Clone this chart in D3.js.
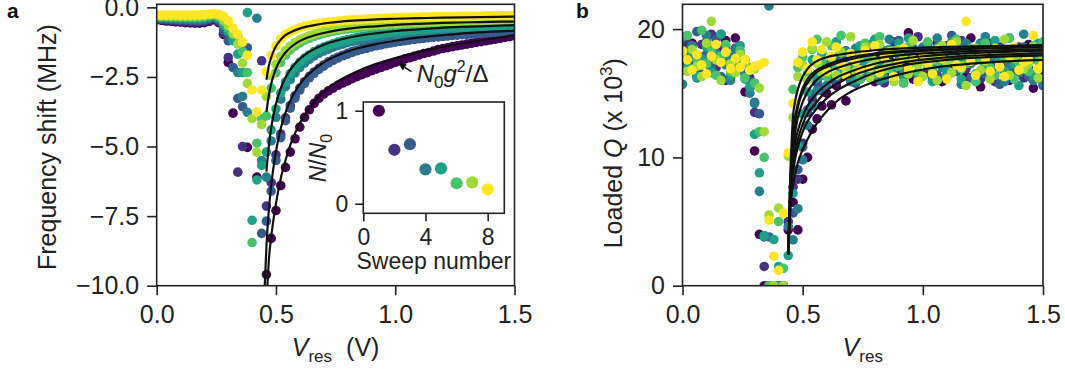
<!DOCTYPE html>
<html>
<head>
<meta charset="utf-8">
<script src="https://cdn.jsdelivr.net/npm/d3@7"></script>
<style>
  html, body { margin: 0; padding: 0; background: #fff; }
  svg { display: block; }
</style>
</head>
<body>
<svg id="chart" width="1065" height="373"></svg>
<script>
// ---------------- data ----------------
// Resonator bias voltage of each sweep step (V)
const voltages = [0,0.02,0.04,0.06,0.08,0.1,0.12,0.14,0.16,0.18,0.2,0.22,0.24,0.26,0.28,0.3,0.32,0.34,0.36,0.38,0.4,0.42,0.44,0.46,0.48,0.5,0.52,0.54,0.56,0.58,0.6,0.62,0.64,0.66,0.68,0.7,0.72,0.74,0.76,0.78,0.8,0.82,0.84,0.86,0.88,0.9,0.92,0.94,0.96,0.98,1,1.02,1.04,1.06,1.08,1.1,1.12,1.14,1.16,1.18,1.2,1.22,1.24,1.26,1.28,1.3,1.32,1.34,1.36,1.38,1.4,1.42,1.44,1.46,1.48,1.5];

// Frequency shift (MHz), one array per sweep (sweep 1 ... 8)
const shiftSweep1 = [-0.45,-0.47,-0.49,-0.50,-0.52,-0.53,-0.55,-0.56,-0.57,-0.57,-0.55,-0.50,-0.44,
  -0.55,-0.97,-1.98,-3.8,null,null,-5.03,null,-6.1,null,
  -9.6,-8.3,-7.3,-6.4,-5.75,-5.2,-4.72,-4.3,-3.95,-3.68,-3.45,-3.27,-3.12,-3.0,-2.9,-2.8,-2.72,-2.64,-2.56,-2.49,-2.42,-2.35,-2.28,-2.22,-2.16,-2.1,-2.04,-1.98,-1.92,-1.86,-1.81,-1.76,-1.71,-1.66,-1.62,-1.57,-1.52,-1.48,-1.45,-1.41,-1.38,-1.35,-1.32,-1.29,-1.26,-1.23,-1.2,-1.17,-1.14,-1.11,-1.08,-1.05,-1.02];
const shiftSweep2 = [-0.42,-0.44,-0.45,-0.46,-0.48,-0.49,-0.5,-0.51,-0.52,-0.52,-0.5,-0.45,-0.4,
  -0.5,-0.92,-1.8,null,-5.92,-5.0,null,null,null,-1.92,
  -7.14,-6.3,-5.3,-4.55,-3.97,-3.53,-3.18,-2.9,-2.67,-2.48,-2.32,-2.19,-2.07,-1.96,-1.87,-1.79,-1.72,-1.65,-1.59,-1.54,-1.49,-1.44,-1.4,-1.36,-1.33,-1.29,-1.26,-1.23,-1.21,-1.18,-1.16,-1.14,-1.11,-1.09,-1.08,-1.06,-1.04,-1.03,-1.01,-1.0,-0.98,-0.97,-0.96,-0.94,-0.93,-0.92,-0.91,-0.9,-0.89,-0.88,-0.87,-0.86,-0.85];
const shiftSweep3 = [-0.39,-0.41,-0.42,-0.43,-0.44,-0.45,-0.46,-0.47,-0.47,-0.47,-0.45,-0.41,-0.37,
  -0.45,-0.8,-1.2,-2.16,-3.27,-3.57,-1.45,null,null,-8.12,
  -7.68,-6.6,-5.5,-4.68,-4.07,-3.62,-3.26,-2.97,-2.73,-2.53,-2.37,-2.23,-2.11,-2.0,-1.9,-1.82,-1.74,-1.68,-1.62,-1.56,-1.51,-1.47,-1.42,-1.38,-1.35,-1.31,-1.28,-1.25,-1.22,-1.2,-1.17,-1.15,-1.13,-1.11,-1.09,-1.07,-1.06,-1.04,-1.03,-1.01,-1.0,-0.98,-0.97,-0.96,-0.95,-0.94,-0.92,-0.91,-0.9,-0.89,-0.88,-0.88,-0.87];
const shiftSweep4 = [-0.37,-0.38,-0.39,-0.4,-0.41,-0.42,-0.42,-0.43,-0.43,-0.43,-0.41,-0.37,-0.34,
  -0.4,-0.65,-0.9,-1.09,-2.34,-3.2,-3.77,null,-0.39,-5.5,
  -6.1,-4.8,-3.95,-3.3,-2.85,-2.6,-2.36,-2.16,-2.0,-1.87,-1.75,-1.65,-1.57,-1.5,-1.43,-1.37,-1.32,-1.27,-1.23,-1.19,-1.15,-1.12,-1.09,-1.06,-1.03,-1.0,-0.98,-0.96,-0.94,-0.92,-0.9,-0.88,-0.86,-0.85,-0.83,-0.82,-0.8,-0.79,-0.78,-0.77,-0.76,-0.75,-0.74,-0.73,-0.72,-0.71,-0.7,-0.69,-0.68,-0.67,-0.66,-0.66,-0.65];
const shiftSweep5 = [-0.35,-0.36,-0.36,-0.37,-0.38,-0.38,-0.39,-0.39,-0.39,-0.39,-0.37,-0.34,-0.31,
  -0.38,-0.6,-0.85,-1.2,-1.68,-2.34,-0.19,-7.65,-6.2,-5.68,
  -5.2,-4.4,-3.65,-3.08,-2.68,-2.38,-2.15,-1.97,-1.82,-1.7,-1.59,-1.5,-1.43,-1.36,-1.3,-1.25,-1.2,-1.16,-1.12,-1.08,-1.05,-1.02,-0.99,-0.97,-0.94,-0.92,-0.9,-0.88,-0.86,-0.85,-0.83,-0.82,-0.8,-0.79,-0.78,-0.77,-0.75,-0.74,-0.73,-0.72,-0.71,-0.71,-0.7,-0.69,-0.68,-0.67,-0.67,-0.66,-0.65,-0.65,-0.64,-0.63,-0.63];
const shiftSweep6 = [-0.32,-0.33,-0.33,-0.34,-0.34,-0.35,-0.35,-0.35,-0.35,-0.35,-0.33,-0.3,-0.28,
  -0.33,-0.5,-0.75,-0.9,-1.03,-1.59,-2.34,-8.45,-4.88,-4.0,
  -3.9,-2.9,-2.35,-1.98,-1.72,-1.53,-1.39,-1.28,-1.18,-1.11,-1.04,-0.99,-0.94,-0.9,-0.86,-0.83,-0.8,-0.78,-0.76,-0.74,-0.72,-0.7,-0.69,-0.67,-0.66,-0.65,-0.64,-0.63,-0.62,-0.61,-0.6,-0.59,-0.58,-0.58,-0.57,-0.56,-0.56,-0.55,-0.55,-0.54,-0.54,-0.53,-0.53,-0.52,-0.52,-0.51,-0.51,-0.51,-0.5,-0.5,-0.5,-0.49,-0.49];
const shiftSweep7 = [-0.3,-0.3,-0.31,-0.31,-0.31,-0.32,-0.32,-0.32,-0.32,-0.31,-0.3,-0.27,-0.25,
  -0.3,-0.45,-0.65,-0.95,-1.32,-2.0,-2.73,-4.0,-5.2,-4.21,
  -3.2,-2.45,-2.05,-1.76,-1.55,-1.39,-1.27,-1.17,-1.09,-1.02,-0.96,-0.91,-0.87,-0.83,-0.8,-0.77,-0.74,-0.72,-0.7,-0.68,-0.66,-0.65,-0.63,-0.62,-0.61,-0.6,-0.59,-0.58,-0.57,-0.56,-0.55,-0.55,-0.54,-0.53,-0.53,-0.52,-0.52,-0.51,-0.51,-0.5,-0.5,-0.49,-0.49,-0.48,-0.48,-0.48,-0.47,-0.47,-0.47,-0.46,-0.46,-0.46,-0.45];
const shiftSweep8 = [-0.28,-0.28,-0.28,-0.28,-0.28,-0.28,-0.28,-0.28,-0.27,-0.27,-0.26,-0.24,-0.22,
  -0.25,-0.32,-0.48,-0.75,-0.97,-1.25,-1.72,-2.97,-3.75,-2.97,
  -2.32,-1.72,-1.38,-1.14,-0.98,-0.88,-0.8,-0.73,-0.68,-0.64,-0.6,-0.57,-0.55,-0.53,-0.51,-0.49,-0.48,-0.46,-0.45,-0.44,-0.43,-0.42,-0.41,-0.4,-0.39,-0.39,-0.38,-0.37,-0.37,-0.36,-0.36,-0.35,-0.35,-0.34,-0.34,-0.34,-0.33,-0.33,-0.33,-0.32,-0.32,-0.32,-0.31,-0.31,-0.31,-0.31,-0.3,-0.3,-0.3,-0.3,-0.29,-0.29,-0.29];

// Dispersive-shift fits N g^2/Delta, [V, MHz]
const shiftFitSweep8 = [[0.46,-2.6],[0.47,-2.11],[0.48,-1.8],[0.49,-1.57],[0.5,-1.4],[0.52,-1.16],[0.54,-1.0],[0.56,-0.9],[0.59,-0.79],[0.62,-0.71],[0.66,-0.64],[0.7,-0.58],[0.76,-0.52],[0.84,-0.47],[0.92,-0.43],[1.0,-0.41],[1.1,-0.39],[1.2,-0.37],[1.35,-0.35],[1.5,-0.33]];
const shiftFitSweeps67 = [[0.46,-3.76],[0.47,-3.17],[0.48,-2.75],[0.49,-2.44],[0.5,-2.2],[0.52,-1.86],[0.54,-1.62],[0.56,-1.45],[0.59,-1.26],[0.62,-1.13],[0.66,-1.01],[0.7,-0.92],[0.76,-0.82],[0.84,-0.73],[0.92,-0.68],[1.0,-0.63],[1.1,-0.59],[1.2,-0.56],[1.35,-0.53],[1.5,-0.51]];
const shiftFitSweeps45 = [[0.46,-5.9],[0.47,-4.99],[0.48,-4.34],[0.49,-3.85],[0.5,-3.47],[0.52,-2.91],[0.54,-2.52],[0.56,-2.24],[0.59,-1.93],[0.62,-1.71],[0.66,-1.5],[0.7,-1.34],[0.76,-1.18],[0.84,-1.03],[0.92,-0.93],[1.0,-0.85],[1.1,-0.79],[1.2,-0.73],[1.35,-0.68],[1.5,-0.64]];
const shiftFitSweeps23 = [[0.453,-10],[0.456,-9.4],[0.46,-8.6],[0.47,-7.3],[0.48,-6.4],[0.49,-5.72],[0.5,-5.18],[0.52,-4.35],[0.54,-3.78],[0.56,-3.35],[0.59,-2.89],[0.62,-2.55],[0.66,-2.23],[0.7,-1.98],[0.76,-1.72],[0.84,-1.48],[0.92,-1.32],[1.0,-1.2],[1.1,-1.08],[1.2,-1.0],[1.35,-0.9],[1.5,-0.84]];
const shiftFitSweep1 = [[0.464,-10],[0.47,-9.1],[0.48,-8.25],[0.49,-7.6],[0.5,-7.05],[0.52,-6.15],[0.54,-5.5],[0.56,-4.95],[0.59,-4.33],[0.62,-3.87],[0.66,-3.4],[0.7,-3.03],[0.76,-2.65],[0.84,-2.3],[0.92,-2.03],[1.0,-1.82],[1.1,-1.6],[1.2,-1.42],[1.35,-1.2],[1.5,-1.0]];

// Loaded Q (x 10^3), one array per sweep
const qSweep1 = [18.6,17.2,18.9,16.4,17.8,19.0,16.9,18.3,17.5,19.1,16.2,19.3,17.9,15.1,15.4,
  10.5,4.0,0,0,null,0,null,4.35,
  6.5,4.35,8.3,10.0,12.2,13.0,14.0,15.0,14.1,15.6,16.3,14.4,16.0,15.8,17.0,16.4,17.3,15.9,17.9,16.5,17.6,18.4,16.8,17.2,19.7,16.1,17.8,18.2,16.6,17.4,18.9,15.9,17.7,16.9,18.5,17.1,16.3,19.3,17.6,15.5,18.0,17.2,16.7,18.6,17.4,16.0,18.2,17.5,16.6,18.8,15.4,17.9,16.8];
const qSweep2 = [17.5,19.0,18.1,16.6,18.8,17.3,19.6,17.0,18.4,16.0,17.7,18.5,16.9,17.6,16.2,
  13.5,null,1.5,0,0,null,0,5.0,
  7.7,8.3,11.1,13.5,14.5,15.8,15.2,16.6,17.3,15.9,16.9,17.8,16.4,18.2,16.1,17.5,18.6,16.8,17.4,15.8,18.1,19.0,17.0,16.3,18.4,17.6,19.4,16.5,17.9,18.3,16.0,17.2,18.7,16.6,17.8,19.1,16.9,17.5,18.2,16.1,17.3,18.9,15.9,17.7,18.4,16.5,17.1,18.6,16.2,17.9,18.3,16.7,17.4];
const qSweep3 = [16.8,18.3,17.4,19.8,16.5,18.0,17.1,19.2,16.3,18.6,17.8,16.7,18.2,17.0,15.9,
  14.3,13.4,null,3.8,null,0,0,null,
  5.66,9.05,10.8,13.7,14.9,16.0,15.4,17.2,16.1,17.8,16.7,18.3,17.0,15.8,18.0,17.3,16.4,18.7,17.5,16.2,18.1,17.0,19.1,16.6,17.7,18.5,16.0,17.9,18.8,17.2,16.4,18.3,17.0,19.5,16.7,17.6,18.4,16.2,17.8,18.9,16.5,17.4,18.1,15.7,17.9,19.3,16.8,17.5,18.6,16.3,17.7,18.2,15.6];
const qSweep4 = [15.7,17.9,18.7,16.2,17.4,19.5,16.8,18.1,19.6,17.2,16.0,18.4,17.6,16.5,15.0,
  14.2,7.35,3.8,21.8,0,0,null,4.6,
  3.57,6.0,9.8,12.5,14.0,15.2,16.4,15.6,17.5,16.3,18.1,17.0,15.9,18.5,17.3,16.6,18.8,17.1,16.0,18.3,19.2,16.9,17.6,15.8,18.0,17.4,16.3,18.6,17.8,16.1,19.3,17.0,16.5,18.2,17.6,15.7,18.9,17.3,16.4,18.0,19.4,16.2,17.7,18.5,15.9,17.2,18.1,16.6,19.6,17.0,16.0,18.4,15.8];
const qSweep5 = [19.4,17.0,18.2,16.3,17.7,18.6,16.6,17.9,19.6,18.0,16.4,17.5,18.7,16.1,15.5,
  11.8,8.8,3.9,0,3.6,1.5,0,2.35,
  7.2,11.0,13.4,15.1,17.6,16.2,18.1,16.9,17.4,19.0,16.5,18.2,17.1,16.0,18.7,17.5,16.8,19.2,17.3,16.2,18.4,17.0,18.9,16.4,19.3,17.7,16.6,18.1,17.2,15.9,18.6,17.5,16.8,19.0,17.4,16.1,18.3,17.8,16.5,18.8,17.0,16.3,19.1,17.6,16.7,18.2,17.3,15.6,18.5,17.8,16.4,18.9,17.1];
const qSweep6 = [18.2,19.5,16.9,17.6,19.9,17.3,18.5,16.4,17.9,18.8,16.7,17.4,18.3,16.2,17.0,
  15.8,12.0,10.0,0,0,5.0,1.35,null,
  15.3,17.0,17.8,16.6,18.4,19.2,17.5,16.3,18.7,17.2,19.5,16.8,18.0,17.4,16.1,18.9,17.7,16.5,19.4,17.9,16.9,18.3,17.1,15.8,18.6,17.4,16.6,18.0,19.0,16.8,17.5,18.4,16.2,17.8,19.2,16.9,17.3,18.5,15.9,17.6,18.9,17.0,16.4,18.1,17.7,19.3,16.1,17.4,18.2,16.7,18.7,17.5,19.0];
const qSweep7 = [17.8,16.7,18.4,17.1,16.3,18.9,20.6,17.6,16.0,18.2,17.3,16.6,18.0,17.4,16.8,
  16.9,15.4,12.0,5.5,0,6.05,0,10.1,
  13.1,16.3,17.2,16.0,18.5,17.3,16.6,19.0,17.8,16.4,18.2,17.0,19.4,16.7,17.9,18.6,16.2,17.5,18.8,16.9,17.3,15.9,18.4,17.7,16.5,19.1,17.2,16.3,18.0,17.6,16.0,18.7,17.4,16.6,19.0,17.1,15.6,17.8,18.5,16.8,17.5,16.1,18.3,17.0,19.2,16.4,17.7,18.1,16.9,17.3,18.6,16.2,17.8];
const qSweep8 = [18.3,17.6,16.8,18.0,17.2,16.5,17.9,18.8,17.4,18.2,16.9,17.7,17.0,17.6,16.8,
  17.1,17.2,17.4,5.1,2.3,1.2,5.66,10.35,
  14.2,17.4,18.2,16.9,19.0,17.6,18.4,16.7,17.9,18.6,17.2,16.4,18.1,17.5,16.8,18.3,17.0,18.7,16.6,17.8,18.2,16.3,17.4,18.5,16.9,17.6,15.9,18.0,17.3,16.5,18.4,17.7,16.1,18.8,17.2,17.0,20.6,17.5,16.4,18.2,17.8,16.7,18.5,17.1,16.3,17.9,18.6,16.8,17.4,17.6,19.5,16.9,17.3];

// Loaded-Q fits, sampled at these voltages
const qFitVoltages = [0.44,0.445,0.45,0.455,0.46,0.47,0.48,0.5,0.52,0.55,0.6,0.65,0.7,0.8,0.9,1.0,1.1,1.2,1.35,1.5];
const qFitSweep1 = [2.4,4.5,6.3,7.2,7.8,8.8,9.6,10.6,11.4,12.4,13.6,14.5,15.1,15.9,16.45,16.85,17.12,17.3,17.48,17.6];
const qFitSweep2 = [2.4,4.8,6.9,8.0,8.8,10.0,10.8,12.0,12.8,13.6,14.6,15.3,15.8,16.6,17.1,17.4,17.6,17.75,17.87,17.95];
const qFitSweep3 = [2.4,5.0,7.1,8.3,9.2,10.5,11.4,12.6,13.4,14.1,15.2,15.8,16.3,16.95,17.35,17.62,17.8,17.92,18.02,18.1];
const qFitSweep4 = [2.4,5.3,7.6,9.0,10.0,11.3,12.1,13.2,14.0,14.8,15.7,16.3,16.7,17.3,17.65,17.88,18.03,18.13,18.23,18.32];
const qFitSweep5 = [2.4,5.5,7.9,9.4,10.6,12.1,13.1,14.3,15.1,15.9,16.6,17.0,17.3,17.7,17.95,18.1,18.21,18.29,18.36,18.42];
const qFitSweep6 = [2.4,5.8,8.4,10.0,11.4,12.9,13.9,15.1,15.8,16.5,17.05,17.4,17.65,18.0,18.18,18.3,18.39,18.45,18.53,18.6];
const qFitSweep7 = [2.4,6.0,8.6,10.4,11.8,13.3,14.2,15.4,16.1,16.7,17.2,17.55,17.8,18.1,18.27,18.38,18.46,18.52,18.59,18.65];
const qFitSweep8 = [2.4,6.5,9.5,11.6,13.2,14.5,15.3,16.3,16.9,17.4,17.8,18.0,18.15,18.35,18.47,18.55,18.61,18.65,18.7,18.75];

// Inset: relative electron number per sweep
const sweepNumbers = [1,2,3,4,5,6,7,8];
const relativeN = [1.0,0.58,0.64,0.37,0.38,0.22,0.23,0.155];

// Tick values
const voltageTicks = [0, 0.5, 1.0, 1.5];
const shiftTicks = [0, -2.5, -5, -7.5, -10];
const qTicks = [0, 10, 20];
const insetXTicks = [0, 4, 8];
const insetYTicks = [0, 1];

// ---------------- drawing ----------------
const FONT = '"Liberation Sans", Arial, Helvetica, sans-serif';
const INK = "#222";
const svg = d3.select("#chart");
svg.append("rect").attr("width", 1065).attr("height", 373).attr("fill", "#fff");

const shiftSweeps = [shiftSweep1, shiftSweep2, shiftSweep3, shiftSweep4, shiftSweep5, shiftSweep6, shiftSweep7, shiftSweep8];
const qSweeps = [qSweep1, qSweep2, qSweep3, qSweep4, qSweep5, qSweep6, qSweep7, qSweep8];
const shiftFits = [shiftFitSweep1, shiftFitSweeps23, shiftFitSweeps45, shiftFitSweeps67, shiftFitSweep8];
const qFits = [qFitSweep1, qFitSweep2, qFitSweep3, qFitSweep4, qFitSweep5, qFitSweep6, qFitSweep7, qFitSweep8];
const sweepColor = i => d3.interpolateViridis(i / 7);
const DOT_R = 4.8;

function styleAxis(g, fs) {
  g.attr("font-size", fs).attr("font-family", FONT);
  g.select(".domain").remove();
  g.selectAll(".tick line").attr("stroke", INK).attr("stroke-width", 1.6);
  g.selectAll(".tick text").attr("fill", INK);
}
function frame(box) {
  svg.append("rect")
    .attr("x", box.left).attr("y", box.top)
    .attr("width", box.right - box.left).attr("height", box.bottom - box.top)
    .attr("fill", "none").attr("stroke", INK).attr("stroke-width", 1.6);
}
function clip(id, box) {
  svg.append("clipPath").attr("id", id).append("rect")
    .attr("x", box.left).attr("y", box.top)
    .attr("width", box.right - box.left).attr("height", box.bottom - box.top);
}

// ----- panel a: frequency shift -----
const boxA = { left: 156.7, right: 514.5, top: 4.3, bottom: 285.7 };
const xA = d3.scaleLinear().domain([0, 1.5]).range([boxA.left, boxA.right]);
const yA = d3.scaleLinear().domain([-10, 0.11]).range([boxA.bottom, boxA.top]);
clip("clipA", boxA);

const gA = svg.append("g").attr("clip-path", "url(#clipA)");
shiftSweeps.forEach((vals, s) => {
  const pts = voltages.map((v, k) => [v, vals[k]]).filter(d => d[1] !== null);
  gA.append("g").selectAll("circle").data(pts).join("circle")
    .attr("cx", d => xA(d[0])).attr("cy", d => yA(d[1]))
    .attr("r", DOT_R).attr("fill", sweepColor(s));
});
const lineA = d3.line().x(d => xA(d[0])).y(d => yA(d[1])).curve(d3.curveMonotoneX);
shiftFits.forEach(f => {
  gA.append("path").attr("d", lineA(f)).attr("fill", "none")
    .attr("stroke", "#111").attr("stroke-width", 2.2);
});

svg.append("g").attr("transform", `translate(0,${boxA.bottom})`)
  .call(d3.axisBottom(xA).tickValues(voltageTicks).tickFormat(d3.format(".1f")).tickSize(9.5).tickPadding(10))
  .call(g => styleAxis(g, 25));
svg.append("g").attr("transform", `translate(${boxA.left},0)`)
  .call(d3.axisLeft(yA).tickValues(shiftTicks).tickFormat(d3.format(".1f")).tickSize(9.5).tickPadding(8))
  .call(g => styleAxis(g, 25));
frame(boxA);

svg.append("text").attr("transform", "translate(56,270) rotate(-90)")
  .attr("font-family", FONT).attr("font-size", 25).attr("fill", INK)
  .text("Frequency shift (MHz)");

const xlabA = svg.append("text").attr("x", (boxA.left + boxA.right) / 2).attr("y", 356)
  .attr("text-anchor", "middle").attr("font-family", FONT).attr("font-size", 25).attr("fill", INK);
xlabA.append("tspan").attr("font-style", "italic").text("V");
xlabA.append("tspan").attr("font-size", 17).attr("dy", 6).text("res");
xlabA.append("tspan").attr("dy", -6).attr("dx", 14).text("(V)");

svg.append("text").attr("x", 7).attr("y", 18.3).attr("font-family", FONT)
  .attr("font-size", 21).attr("font-weight", "bold").attr("fill", "#111").text("a");

// annotation pointing at the sweep-1 fit
const note = { tip: [1.012, -2.0], tail: [1.068, -2.31], text: [1.09, -2.67] };
const tipX = xA(note.tip[0]), tipY = yA(note.tip[1]);
const tailX = xA(note.tail[0]), tailY = yA(note.tail[1]);
const ang = Math.atan2(tipY - tailY, tipX - tailX);
const headLen = 8, headW = 3.6;
const baseX = tipX - headLen * Math.cos(ang), baseY = tipY - headLen * Math.sin(ang);
svg.append("line").attr("x1", tailX).attr("y1", tailY).attr("x2", baseX).attr("y2", baseY)
  .attr("stroke", "#111").attr("stroke-width", 1.6);
svg.append("path").attr("fill", "#111").attr("d",
  `M${tipX},${tipY}L${baseX + headW * Math.sin(ang)},${baseY - headW * Math.cos(ang)}` +
  `L${baseX - headW * Math.sin(ang)},${baseY + headW * Math.cos(ang)}Z`);
const noteText = svg.append("text").attr("x", xA(note.text[0])).attr("y", yA(note.text[1]))
  .attr("font-family", FONT).attr("font-size", 24).attr("fill", INK);
noteText.append("tspan").attr("font-style", "italic").text("N");
noteText.append("tspan").attr("font-size", 17).attr("dy", 6).text("0");
noteText.append("tspan").attr("font-style", "italic").attr("dy", -6).text("g");
noteText.append("tspan").attr("font-size", 16).attr("dy", -10).text("2");
noteText.append("tspan").attr("dy", 10).text("/\u0394");

// ----- inset: N/N0 versus sweep number -----
const boxI = { left: 363.3, right: 504.3, top: 102, bottom: 213.3 };
const xI = d3.scaleLinear().domain([0, 9.07]).range([boxI.left, boxI.right]);
const yI = d3.scaleLinear().domain([-0.103, 1.094]).range([boxI.bottom, boxI.top]);
svg.append("rect").attr("x", boxI.left).attr("y", boxI.top)
  .attr("width", boxI.right - boxI.left).attr("height", boxI.bottom - boxI.top).attr("fill", "#fff");
svg.append("g").selectAll("circle").data(sweepNumbers).join("circle")
  .attr("cx", d => xI(d)).attr("cy", (d, i) => yI(relativeN[i]))
  .attr("r", 6.1).attr("fill", (d, i) => sweepColor(i));
svg.append("g").attr("transform", `translate(0,${boxI.bottom})`)
  .call(d3.axisBottom(xI).tickValues(insetXTicks).tickFormat(d3.format("d")).tickSize(8).tickPadding(7))
  .call(g => styleAxis(g, 23));
svg.append("g").attr("transform", `translate(${boxI.left},0)`)
  .call(d3.axisLeft(yI).tickValues(insetYTicks).tickFormat(d3.format("d")).tickSize(8).tickPadding(7))
  .call(g => styleAxis(g, 23));
frame(boxI);
svg.append("text").attr("x", (boxI.left + boxI.right) / 2).attr("y", 269)
  .attr("text-anchor", "middle").attr("font-family", FONT).attr("font-size", 23).attr("fill", INK)
  .text("Sweep number");
const ylabI = svg.append("text").attr("transform", "translate(326,158) rotate(-90)")
  .attr("text-anchor", "middle").attr("font-family", FONT).attr("font-size", 23).attr("fill", INK);
ylabI.append("tspan").attr("font-style", "italic").text("N");
ylabI.append("tspan").text("/");
ylabI.append("tspan").attr("font-style", "italic").text("N");
ylabI.append("tspan").attr("font-size", 16).attr("dy", 6).text("0");

// ----- panel b: loaded Q -----
const boxB = { left: 682.5, right: 1043, top: 4.3, bottom: 285.7 };
const xB = d3.scaleLinear().domain([0, 1.5]).range([boxB.left, boxB.right]);
const yB = d3.scaleLinear().domain([0, 21.93]).range([boxB.bottom, boxB.top]);
clip("clipB", boxB);

const gB = svg.append("g").attr("clip-path", "url(#clipB)");
qSweeps.forEach((vals, s) => {
  const pts = voltages.map((v, k) => [v, vals[k]]).filter(d => d[1] !== null);
  gB.append("g").selectAll("circle").data(pts).join("circle")
    .attr("cx", d => xB(d[0])).attr("cy", d => yB(d[1]))
    .attr("r", DOT_R).attr("fill", sweepColor(s));
});
const lineB = d3.line().x(d => xB(d[0])).y(d => yB(d[1])).curve(d3.curveMonotoneX);
qFits.forEach(f => {
  gB.append("path").attr("d", lineB(qFitVoltages.map((v, i) => [v, f[i]])))
    .attr("fill", "none").attr("stroke", "#111").attr("stroke-width", 2.2);
});

svg.append("g").attr("transform", `translate(0,${boxB.bottom})`)
  .call(d3.axisBottom(xB).tickValues(voltageTicks).tickFormat(d3.format(".1f")).tickSize(9.5).tickPadding(10))
  .call(g => styleAxis(g, 25));
svg.append("g").attr("transform", `translate(${boxB.left},0)`)
  .call(d3.axisLeft(yB).tickValues(qTicks).tickFormat(d3.format("d")).tickSize(9.5).tickPadding(8))
  .call(g => styleAxis(g, 25));
frame(boxB);

const ylabB = svg.append("text").attr("transform", "translate(622,248.3) rotate(-90)")
  .attr("font-family", FONT).attr("font-size", 25).attr("fill", INK);
ylabB.append("tspan").text("Loaded ");
ylabB.append("tspan").attr("font-style", "italic").text("Q");
ylabB.append("tspan").text(" (x 10");
ylabB.append("tspan").attr("font-size", 17).attr("dy", -10).text("3");
ylabB.append("tspan").attr("dy", 10).text(")");

const xlabB = svg.append("text").attr("x", (boxB.left + boxB.right) / 2).attr("y", 356)
  .attr("text-anchor", "middle").attr("font-family", FONT).attr("font-size", 25).attr("fill", INK);
xlabB.append("tspan").attr("font-style", "italic").text("V");
xlabB.append("tspan").attr("font-size", 17).attr("dy", 6).text("res");

svg.append("text").attr("x", 576).attr("y", 18.3).attr("font-family", FONT)
  .attr("font-size", 21).attr("font-weight", "bold").attr("fill", "#111").text("b");
</script>
</body>
</html>
